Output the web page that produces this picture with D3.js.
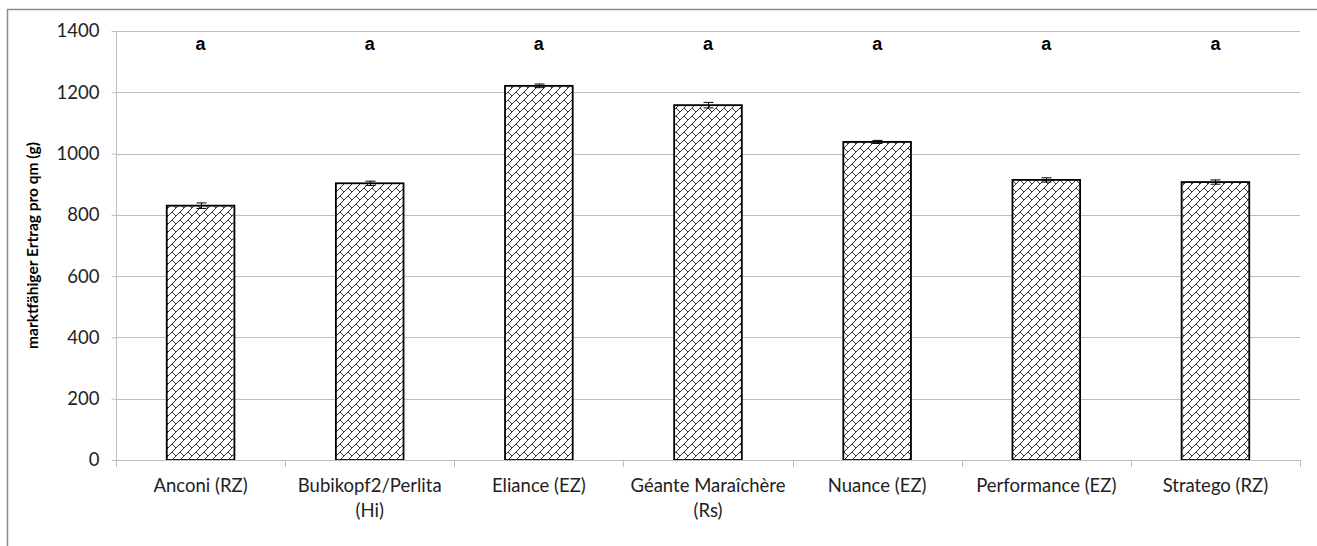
<!DOCTYPE html>
<html>
<head>
<meta charset="utf-8">
<script src="https://cdn.jsdelivr.net/npm/d3@7"></script>
<style>
  html, body { margin: 0; padding: 0; background: #fff; }
  svg { display: block; }
</style>
</head>
<body>
<svg id="chart" width="1317" height="546"></svg>
<script>
// Varieties (two-line labels split with "\n")
const categories = [
  "Anconi (RZ)",
  "Bubikopf2/Perlita\n(Hi)",
  "Eliance (EZ)",
  "Géante Maraîchère\n(Rs)",
  "Nuance (EZ)",
  "Performance (EZ)",
  "Stratego (RZ)"
];
// Marketable yield per m² (g) and standard error
const yieldValues = [830, 903, 1221, 1158, 1038, 914, 907];
const errorValues = [9, 7, 6, 9, 5, 7, 7];
// Significance letters
const letters = ["a", "a", "a", "a", "a", "a", "a"];
const yTicks = [0, 200, 400, 600, 800, 1000, 1200, 1400];
const yTitle = "marktfähiger Ertrag pro qm (g)";

const svg = d3.select("#chart");
const plotLeft = 116, plotRight = 1300, plotTop = 31, plotBottom = 460;
const font = "Lato, 'Open Sans', sans-serif";

// Outer chart frame
svg.append("rect")
  .attr("x", 7.5).attr("y", 9.5)
  .attr("width", 1330).attr("height", 560)
  .attr("fill", "none").attr("stroke", "#8c8c8c").attr("stroke-width", 1.5);

const x = d3.scaleBand().domain(categories).range([plotLeft, plotRight]).paddingInner(0).paddingOuter(0);
const y = d3.scaleLinear().domain([0, 1400]).range([plotBottom, plotTop]);

// Diagonal brick pattern fill
const defs = svg.append("defs");
const pat = defs.append("pattern")
  .attr("id", "brick").attr("patternUnits", "userSpaceOnUse")
  .attr("width", 8).attr("height", 8);
pat.append("rect").attr("width", 8).attr("height", 8).attr("fill", "#fff");
pat.append("path")
  .attr("d", "M-1,9 L9,-1 M-1,1 L1,-1 M7,9 L9,7 M4,4 L8,8")
  .attr("stroke", "#000").attr("stroke-width", 0.8).attr("fill", "none");

// Horizontal gridlines
svg.append("g").selectAll("line").data(yTicks.filter(d => d > 0)).join("line")
  .attr("x1", plotLeft).attr("x2", plotRight)
  .attr("y1", d => Math.round(y(d)) + 0.5).attr("y2", d => Math.round(y(d)) + 0.5)
  .attr("stroke", "#bfbfbf").attr("stroke-width", 1);

// Y axis
const yAxis = svg.append("g").attr("transform", `translate(${plotLeft + 0.5},0)`)
  .call(d3.axisLeft(y).tickValues(yTicks).tickSize(5).tickPadding(12).tickFormat(d3.format("d")));
yAxis.select(".domain").attr("stroke", "#bfbfbf").attr("d", `M0,${plotTop}V${plotBottom}`);
yAxis.selectAll(".tick line").attr("stroke", "#bfbfbf");
yAxis.selectAll(".tick text")
  .attr("font-family", font).attr("font-size", 18.5).attr("fill", "#222");

// Y axis title
svg.append("text")
  .attr("transform", `translate(38,${(plotTop + plotBottom) / 2}) rotate(-90)`)
  .attr("text-anchor", "middle")
  .attr("font-family", font).attr("font-weight", "bold")
  .attr("font-size", 15.5).attr("fill", "#000")
  .text(yTitle);

// Bars
const barW = x.bandwidth() * 0.4;
svg.append("g").selectAll("rect").data(categories).join("rect")
  .attr("x", d => x(d) + (x.bandwidth() - barW) / 2)
  .attr("y", (d, i) => y(yieldValues[i]))
  .attr("width", barW)
  .attr("height", (d, i) => plotBottom - y(yieldValues[i]))
  .attr("fill", "url(#brick)").attr("stroke", "#000").attr("stroke-width", 1.8);

// X axis baseline and category ticks
svg.append("line").attr("x1", plotLeft).attr("x2", plotRight)
  .attr("y1", plotBottom + 0.5).attr("y2", plotBottom + 0.5)
  .attr("stroke", "#bfbfbf");
const bounds = categories.map(c => x(c)).concat([plotRight]);
svg.append("g").selectAll("line").data(bounds).join("line")
  .attr("x1", d => Math.round(d) + 0.5).attr("x2", d => Math.round(d) + 0.5)
  .attr("y1", plotBottom).attr("y2", plotBottom + 7)
  .attr("stroke", "#bfbfbf");

// Error bars
const eb = svg.append("g").attr("stroke", "#000").attr("stroke-width", 1);
categories.forEach((c, i) => {
  const cx = Math.round(x(c) + x.bandwidth() / 2) + 0.5;
  const y1 = y(yieldValues[i] + errorValues[i]);
  const y0 = y(yieldValues[i] - errorValues[i]);
  eb.append("line").attr("x1", cx).attr("x2", cx).attr("y1", y1).attr("y2", y0);
  eb.append("line").attr("x1", cx - 5).attr("x2", cx + 5).attr("y1", y1).attr("y2", y1);
  eb.append("line").attr("x1", cx - 5).attr("x2", cx + 5).attr("y1", y0).attr("y2", y0);
});

// Category labels
const lbl = svg.append("g")
  .attr("font-family", font).attr("font-size", 18.5).attr("fill", "#222")
  .attr("text-anchor", "middle");
categories.forEach(c => {
  const t = lbl.append("text").attr("x", x(c) + x.bandwidth() / 2).attr("y", 492);
  c.split("\n").forEach((line, k) => {
    t.append("tspan").attr("x", x(c) + x.bandwidth() / 2).attr("dy", k === 0 ? 0 : 24.5).text(line);
  });
});

// Significance letters
svg.append("g").selectAll("text").data(categories).join("text")
  .attr("x", d => x(d) + x.bandwidth() / 2)
  .attr("y", 50)
  .attr("text-anchor", "middle")
  .attr("font-family", "'Liberation Sans', Arial, sans-serif").attr("font-weight", "bold")
  .attr("font-size", 18).attr("fill", "#000")
  .text((d, i) => letters[i]);
</script>
</body>
</html>
